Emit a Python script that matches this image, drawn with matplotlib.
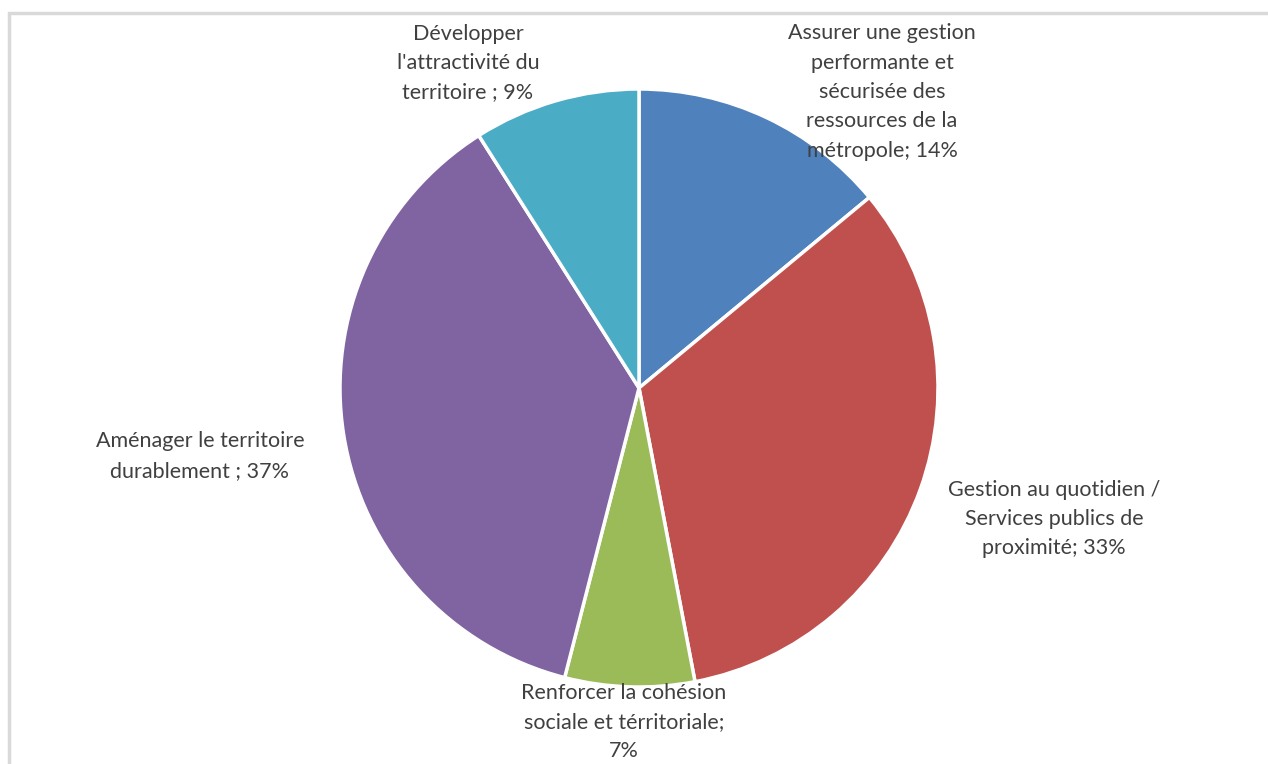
import matplotlib.pyplot as plt
from matplotlib.patches import Rectangle

labels = [
    "Assurer une gestion\nperformante et\nsécurisée des\nressources de la\nmétropole; 14%",
    "Gestion au quotidien /\nServices publics de\nproximité; 33%",
    "Renforcer la cohésion\nsociale et térritoriale;\n7%",
    "Aménager le territoire\ndurablement ; 37%",
    "Développer\nl'attractivité du\nterritoire ; 9%",
]
values = [14, 33, 7, 37, 9]
colors = ["#4F81BD", "#C0504D", "#9BBB59", "#8064A2", "#4BACC6"]

# label positions in pixels (x, y from top)
label_pos = [(882, 92), (1054, 519), (624, 722), (200, 456), (468, 63)]

W, H = 1268, 764
fig = plt.figure(figsize=(W / 100, H / 100), dpi=100)
ax = fig.add_axes([0, 0, 1, 1])
ax.set_xlim(0, W)
ax.set_ylim(0, H)
ax.set_aspect("equal")
ax.axis("off")

ax.add_patch(Rectangle((9, -20), W + 20, H - 13 + 20, fill=False,
                       edgecolor="#D9D9D9", linewidth=2.5))

ax.pie(values, colors=colors, startangle=90, counterclock=False,
       center=(639, H - 388), radius=299,
       wedgeprops=dict(edgecolor="white", linewidth=2.5))

for lab, (x, y) in zip(labels, label_pos):
    ax.text(x, H - y, lab, ha="center", va="center", multialignment="center",
            fontsize=15.5, color="#404040", family=["Lato", "DejaVu Sans"],
            linespacing=1.58)

ax.set_xlim(0, W)
ax.set_ylim(0, H)
fig.savefig("out.png", dpi=100)
